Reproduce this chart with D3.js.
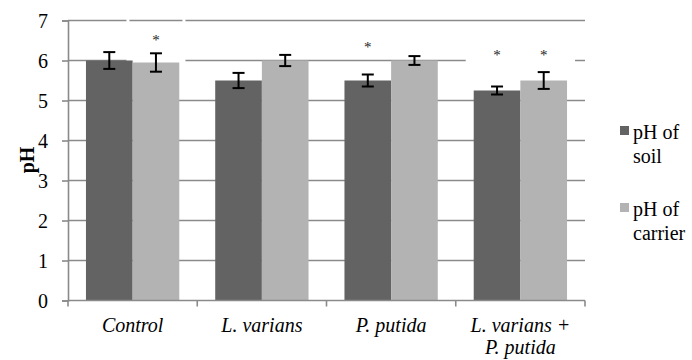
<!DOCTYPE html>
<html>
<head>
<meta charset="utf-8">
<script src="https://cdn.jsdelivr.net/npm/d3@7"></script>
<style>
	html, body { margin: 0; padding: 0; background: #fff; }
	.grid line { stroke: #8a8a8a; stroke-width: 1.6; }
	.axis path, .axis line { stroke: #8a8a8a; stroke-width: 1.6; }
</style>
</head>
<body>
<svg id="chart" width="692" height="360"></svg>
<script>
// data
var categories = ['Control', 'L. varians', 'P. putida', 'L. varians + P. putida'];
var categoryLines = [['Control'], ['L. varians'], ['P. putida'], ['L. varians +', 'P. putida']];
var seriesNames = ['pH of soil', 'pH of carrier'];
var soilValues = [6.0, 5.5, 5.5, 5.25];
var soilErrors = [0.21, 0.19, 0.15, 0.1];
var carrierValues = [5.95, 6.0, 6.0, 5.5];
var carrierErrors = [0.23, 0.14, 0.11, 0.21];
var yTicks = [0, 1, 2, 3, 4, 5, 6, 7];
// significance stars: category index, series index, pH level of the star
var starCats = [0, 2, 3, 3];
var starSeries = [1, 0, 0, 1];
var starLevels = [6.6, 6.44, 6.24, 6.24];

var colors = ['#636363', '#b3b3b3'];
var FONT = '"Times New Roman", Times, "Liberation Serif", Tinos, "DejaVu Serif", serif';

var svg = d3.select('#chart').style('font-family', FONT),
	margin = { left: 68, right: 107, top: 20.5, bottom: 59.5 },
	width = 692 - margin.left - margin.right,
	height = 360 - margin.top - margin.bottom;

var g = svg.append('g').attr('transform', 'translate(' + margin.left + ',' + margin.top + ')');

var x0 = d3.scaleBand().domain(categories).range([0, width]).paddingInner(0).paddingOuter(0);
var x1 = d3.scaleBand().domain([0, 1]).range([0, x0.bandwidth()]).paddingOuter(0.385).paddingInner(0);
var y = d3.scaleLinear().domain([0, 7]).range([height, 0]);

var series = [
	{ values: soilValues, errors: soilErrors },
	{ values: carrierValues, errors: carrierErrors }
];

// gridlines
g.append('g').attr('class', 'grid')
	.selectAll('line').data(yTicks.slice(1)).enter().append('line')
	.attr('x1', 0).attr('x2', width)
	.attr('y1', function(d) { return y(d); })
	.attr('y2', function(d) { return y(d); });

// white borders of the star label boxes cut the gridlines
var boxC = x0(categories[0]) + x1(1) + x1.bandwidth() / 2;
g.append('rect')
	.attr('x', boxC - 28).attr('y', y(7.15))
	.attr('width', 56).attr('height', y(6) - y(7.15))
	.attr('fill', 'none').attr('stroke', '#fff').attr('stroke-width', 3);
g.append('rect')
	.attr('x', x0(categories[3]) + x1(0) - 8).attr('y', y(6.55))
	.attr('width', 2 * x1.bandwidth() + 8 + 8).attr('height', y(5.88) - y(6.55))
	.attr('fill', '#fff');

// bars
series.forEach(function(s, si) {
	g.append('g').selectAll('rect').data(categories).enter().append('rect')
		.attr('x', function(c) { return x0(c) + x1(si); })
		.attr('y', function(c, i) { return y(s.values[i]); })
		.attr('width', x1.bandwidth())
		.attr('height', function(c, i) { return height - y(s.values[i]); })
		.attr('fill', colors[si]);
});

// error bars
series.forEach(function(s, si) {
	var eg = g.append('g').attr('stroke', '#000').attr('stroke-width', 2);
	categories.forEach(function(c, i) {
		var cx = x0(c) + x1(si) + x1.bandwidth() / 2,
			top = y(s.values[i] + s.errors[i]),
			bot = y(s.values[i] - s.errors[i]);
		eg.append('line').attr('x1', cx).attr('x2', cx).attr('y1', top).attr('y2', bot);
		eg.append('line').attr('x1', cx - 6).attr('x2', cx + 6).attr('y1', top).attr('y2', top);
		eg.append('line').attr('x1', cx - 6).attr('x2', cx + 6).attr('y1', bot).attr('y2', bot);
	});
});

// stars
g.append('g').selectAll('text').data(starCats).enter().append('text')
	.attr('x', function(c, i) { return x0(categories[c]) + x1(starSeries[i]) + x1.bandwidth() / 2; })
	.attr('y', function(c, i) { return y(starLevels[i]); })
	.attr('dy', '0.58em')
	.attr('text-anchor', 'middle')
	.style('font-family', FONT)
	.style('font-size', '15px')
	.style('fill', '#222')
	.text('*');

// y axis
var yAxis = g.append('g').attr('class', 'axis')
	.call(d3.axisLeft(y).tickValues(yTicks).tickSize(6).tickPadding(14).tickFormat(d3.format('d')));
yAxis.attr('font-family', null).attr('font-size', null);
yAxis.selectAll('text').style('font-family', FONT).style('font-size', '20px').style('fill', '#000').attr('dy', '0.33em');

// x axis
var xAxis = g.append('g').attr('class', 'axis').attr('transform', 'translate(0,' + height + ')');
xAxis.append('line').attr('x1', 0).attr('x2', width).attr('y1', 0).attr('y2', 0);
xAxis.selectAll('line.tick').data(categories.concat([null])).enter().append('line')
	.attr('class', 'tick')
	.attr('x1', function(c) { return c === null ? width : x0(c); })
	.attr('x2', function(c) { return c === null ? width : x0(c); })
	.attr('y1', 0).attr('y2', 6);
xAxis.selectAll('text').data(categories).enter().append('text')
	.attr('text-anchor', 'middle')
	.attr('x', function(c) { return x0(c) + x0.bandwidth() / 2; })
	.attr('y', 31.5)
	.style('font-family', FONT)
	.style('font-size', '20px')
	.style('font-style', 'italic')
	.each(function(c, i) {
		var t = d3.select(this);
		categoryLines[i].forEach(function(line, li) {
			t.append('tspan').attr('x', x0(c) + x0.bandwidth() / 2).attr('dy', li ? 22 : 0).text(line);
		});
	});

// y title
svg.append('text')
	.attr('transform', 'translate(34,160) rotate(-90)')
	.attr('text-anchor', 'middle')
	.style('font-family', FONT)
	.style('font-size', '20px')
	.style('font-weight', 'bold')
	.text('pH');

// legend
var legendTops = [126, 203];
var legend = svg.append('g');
seriesNames.forEach(function(name, i) {
	var words = name.split(' '),
		lg = legend.append('g').attr('transform', 'translate(620,' + legendTops[i] + ')');
	lg.append('rect').attr('width', 9).attr('height', 9).attr('fill', colors[i]);
	var t = lg.append('text').attr('x', 13).attr('y', 12.5)
		.style('font-family', FONT).style('font-size', '20px');
	t.append('tspan').attr('x', 13).text(words[0] + ' ' + words[1]);
	t.append('tspan').attr('x', 13).attr('dy', 24).text(words.slice(2).join(' '));
});
</script>
</body>
</html>
